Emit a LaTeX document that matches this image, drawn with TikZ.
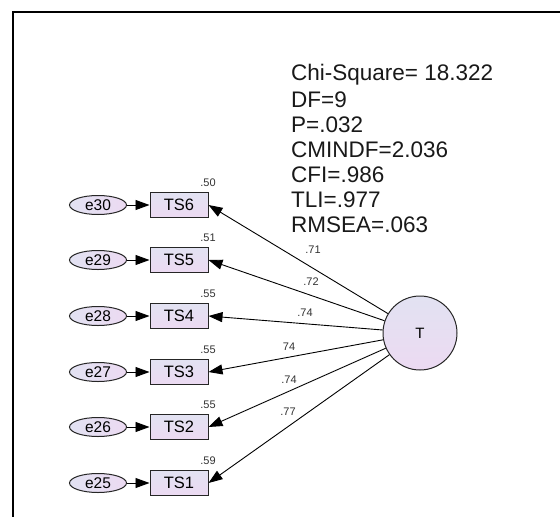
\documentclass[tikz,border=0pt]{standalone}
\usepackage{fontspec}
\setmainfont{Liberation Sans}
\usetikzlibrary{arrows.meta,shapes.geometric}
\definecolor{lavA}{RGB}{226,226,242}
\definecolor{lavB}{RGB}{236,218,242}
\tikzset{
  obs/.style={draw=black!85, line width=1pt, top color=lavA, bottom color=lavB, minimum width=58pt, minimum height=25pt, inner sep=0pt, font=\fontsize{16.5}{16.5}\selectfont},
  err/.style={ellipse, draw=black!85, line width=1pt, left color=lavA, right color=lavB, minimum width=57pt, minimum height=19pt, inner sep=0pt, font=\fontsize{15.5}{15.5}\selectfont},
  lat/.style={circle, draw=black!85, line width=1pt, top color=lavA, bottom color=lavB, minimum size=74pt, inner sep=0pt, font=\fontsize{15}{15}\selectfont},
  arr/.style={-{Triangle[length=14pt,width=10pt]}, line width=0.9pt, black},
  coef/.style={font=\fontsize{11}{11}\selectfont, inner sep=0pt, text=black!80},
  stat/.style={font=\fontsize{22.5}{22.5}\selectfont, inner sep=0pt, anchor=west, text=black!90}
}
\begin{document}
\begin{tikzpicture}[x=1pt,y=-1pt]
\useasboundingbox (0,0) rectangle (560,517);
\fill[white] (0,0) rectangle (560,517);
\draw[line width=2pt] (560,12) -- (13,12) -- (13,517);

\node[stat] (s1) at (291,75) {Chi-Square= 18.322};
\node[stat] (s2) at (291,100) {DF=9};
\node[stat] (s3) at (291,125) {P=.032};
\node[stat] (s4) at (291,150) {CMINDF=2.036};
\node[stat] (s5) at (291,175) {CFI=.986};
\node[stat] (s6) at (291,200) {TLI=.977};
\node[stat] (s7) at (291,225) {RMSEA=.063};

\node[lat] (T) at (420,333) {T};

\foreach \i/\e/\y/\v in {6/30/205/.50, 5/29/260/.51, 4/28/316/.55, 3/27/372/.55, 2/26/427/.55, 1/25/483/.59}{
  \node[obs] (TS\i) at (179,\y) {TS\i};
  \node[err] (e\e) at (98,\y) {e\e};
  \draw[arr] (e\e) -- (TS\i);
  \draw[arr] (T) -- (TS\i.east);
  \node[coef] (v\i) at (208,\y-22) {\v};
}

\node[coef] (l6) at (313,250) {.71};
\node[coef] (l5) at (311,282) {.72};
\node[coef] (l4) at (305,313) {.74};
\node[coef] (l3) at (289,347) {74};
\node[coef] (l2) at (289,380) {.74};
\node[coef] (l1) at (288,412) {.77};
\end{tikzpicture}
\end{document}
